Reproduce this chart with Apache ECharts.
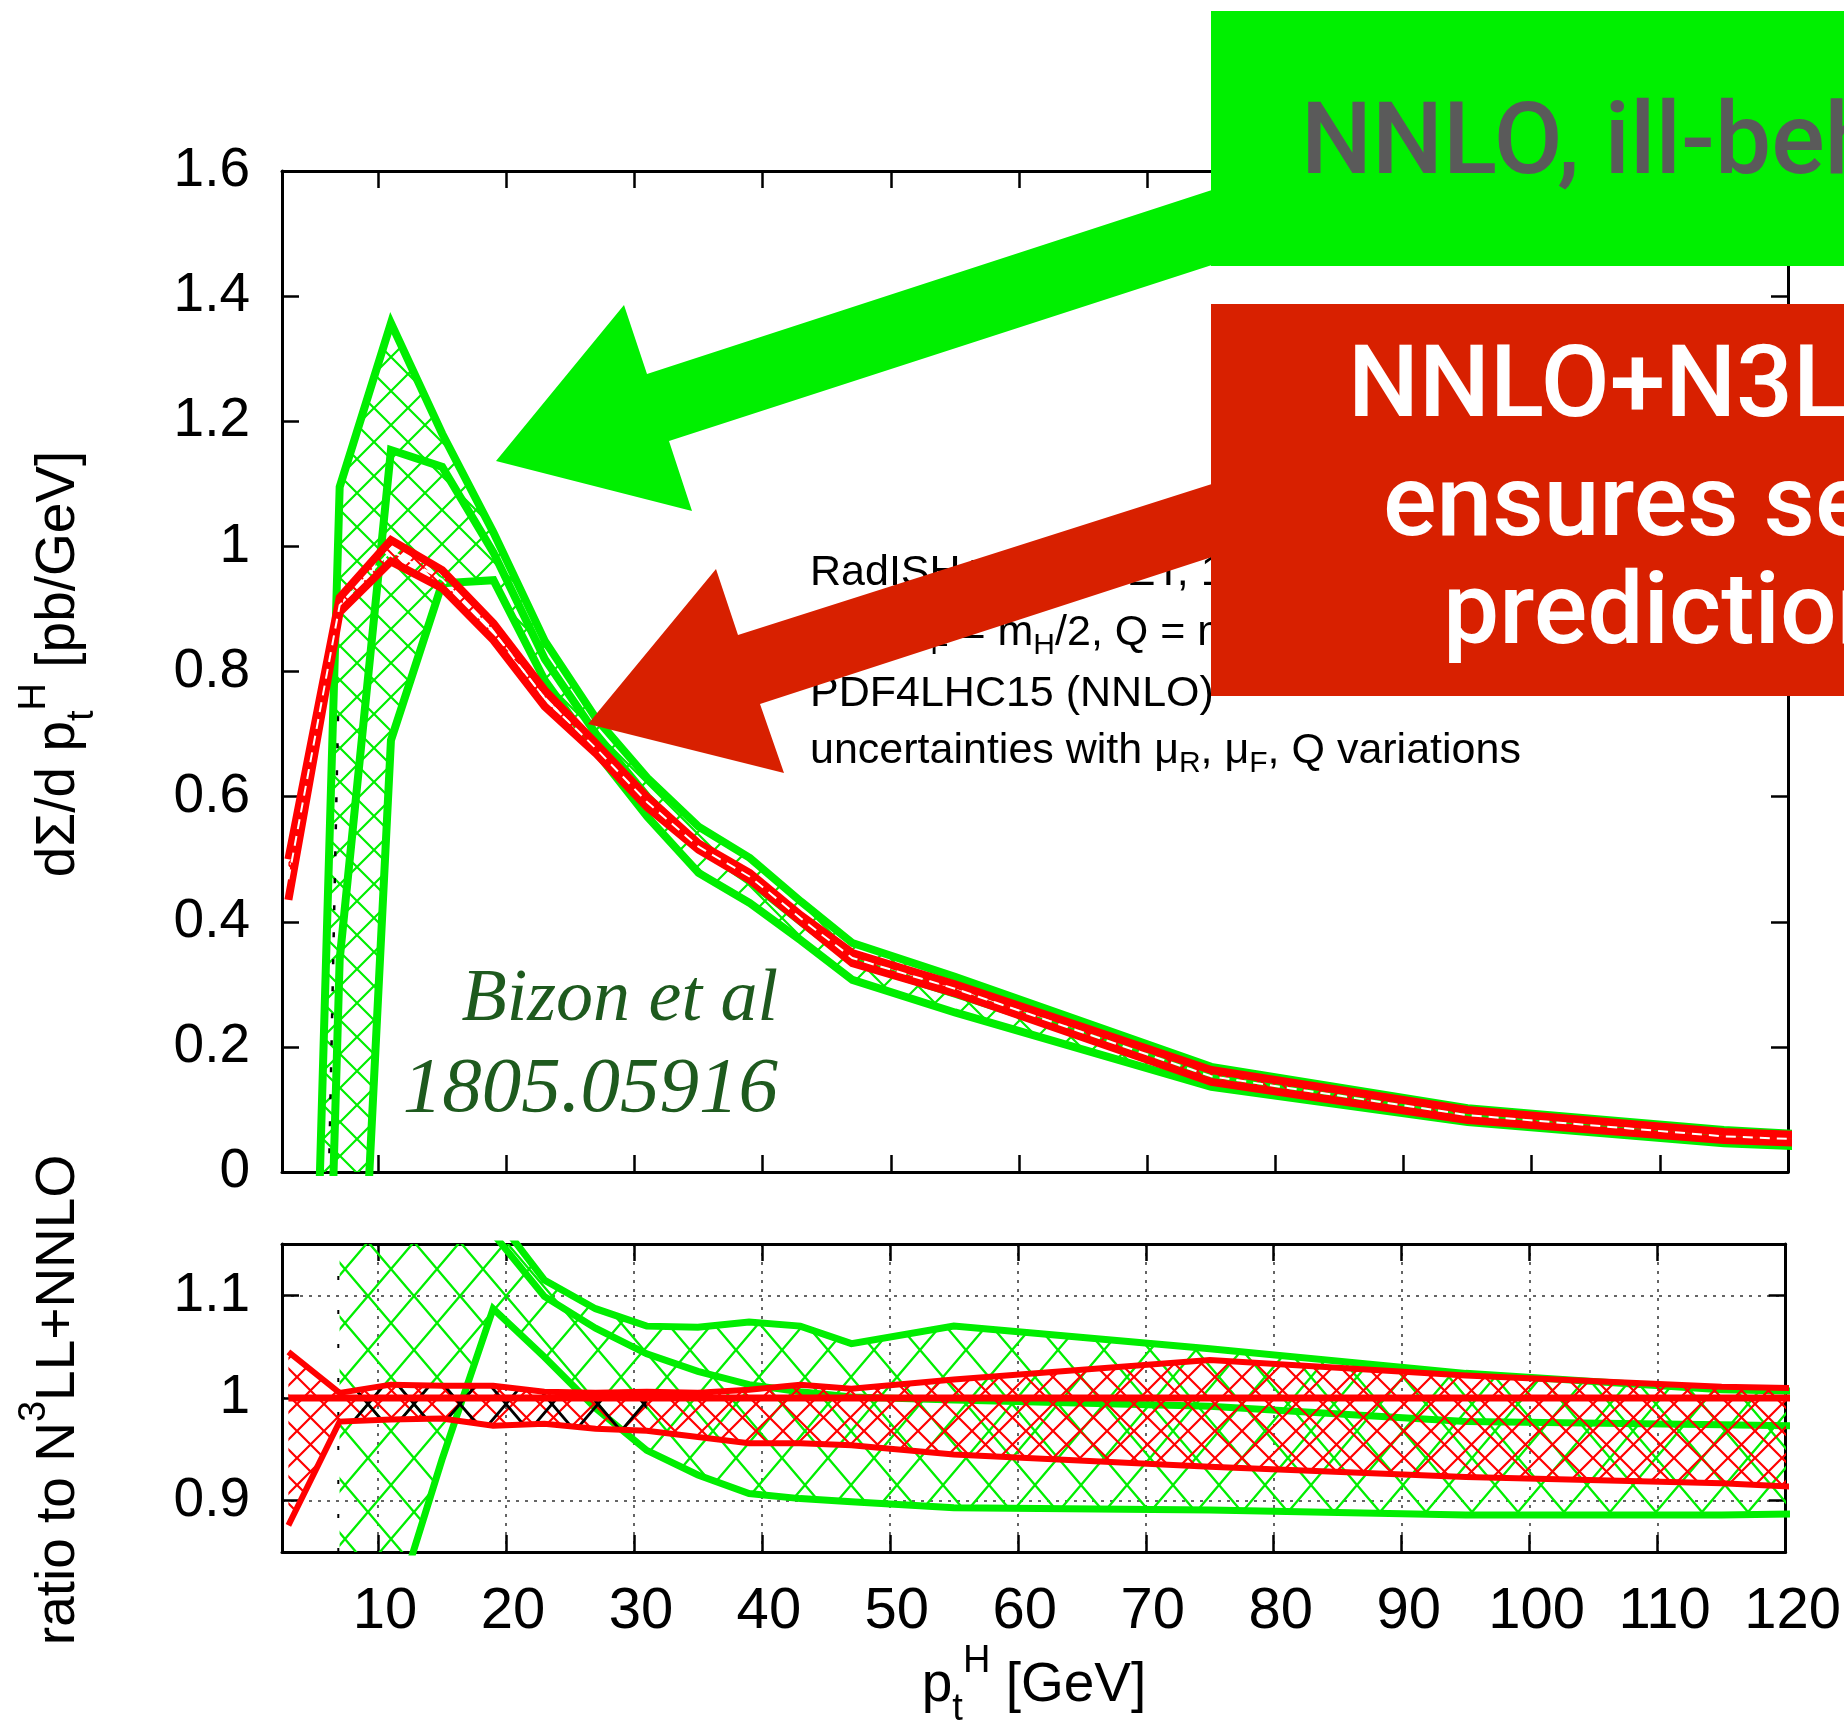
<!DOCTYPE html>
<html lang="en">
<head>
    <meta charset="UTF-8">
    <script src="https://cdn.jsdelivr.net/npm/echarts@6/dist/echarts.min.js"></script>
    <title>Higgs pt spectrum</title>
    <style type="text/css">
    body { margin: 0; }
    .chart {
        width: 1844px;
        height: 1723px;
        background-color: #fff;
    }
    </style>
</head>
<body>
    <div id="chart" class="chart"></div>
<script type="text/javascript">
// bin centres [GeV]
var ptX = [3, 7, 11, 15, 19, 23, 27, 31, 35, 39, 43, 47, 55, 75, 95, 115, 135];
var xTicks = [10, 20, 30, 40, 50, 60, 70, 80, 90, 100, 110, 120];
var ratioTicks = [0.9, 1, 1.1];

// upper panel: d sigma / d pt [pb/GeV]
var nnloHi = [-1.75, 1.095, 1.357, 1.180, 1.022, 0.849, 0.725, 0.630, 0.552, 0.502, 0.432, 0.366, 0.312, 0.168, 0.102, 0.067, 0.045];
var nnloMid = [-2.5, 0.34, 1.154, 1.127, 0.990, 0.820, 0.700, 0.600, 0.520, 0.465, 0.400, 0.337, 0.285, 0.152, 0.091, 0.058, 0.040];
var nnloLo = [-6.0, -0.95, 0.690, 0.941, 0.946, 0.786, 0.672, 0.568, 0.478, 0.430, 0.370, 0.307, 0.255, 0.136, 0.080, 0.046, 0.030];
var n3llHi = [0.500, 0.918, 1.010, 0.962, 0.877, 0.770, 0.685, 0.599, 0.525, 0.478, 0.410, 0.350, 0.300, 0.163, 0.099, 0.064, 0.047];
var n3llMid = [0.468, 0.906, 0.993, 0.947, 0.863, 0.757, 0.677, 0.591, 0.520, 0.472, 0.405, 0.342, 0.293, 0.153, 0.091, 0.057, 0.041];
var n3llLo = [0.435, 0.895, 0.976, 0.933, 0.850, 0.744, 0.669, 0.583, 0.515, 0.467, 0.400, 0.334, 0.286, 0.144, 0.083, 0.051, 0.036];
// thin black hatch edge near the lowest bins
var edgeTopX = [6.2, 6.9];
var edgeTopY = [0.03, 0.76];

// lower panel: ratio to N3LL+NNLO
var ratioN3llHi = [1.045, 1.005, 1.013, 1.012, 1.012, 1.006, 1.005, 1.006, 1.005, 1.008, 1.013, 1.009, 1.018, 1.037, 1.022, 1.011, 1.006];
var ratioN3llMid = [1, 1, 1, 1, 1, 1, 1, 1, 1, 1, 1, 1, 1, 1, 1, 1, 1];
var ratioN3llLo = [0.876, 0.977, 0.979, 0.980, 0.973, 0.975, 0.970, 0.968, 0.962, 0.956, 0.956, 0.954, 0.945, 0.933, 0.923, 0.917, 0.905];
// NNLO ratio starts at the second bin
var ratioNnloHi = [1.22, 1.37, 1.25, 1.18, 1.115, 1.087, 1.070, 1.069, 1.074, 1.070, 1.053, 1.070, 1.048, 1.024, 1.008, 1.004];
var ratioNnloMid = [1.50, 1.35, 1.22, 1.16, 1.099, 1.068, 1.043, 1.026, 1.013, 1.006, 1.001, 0.998, 0.992, 0.977, 0.974, 0.970];
var ratioNnloLo = [0.50, 0.78, 0.94, 1.087, 1.040, 0.990, 0.949, 0.925, 0.907, 0.902, 0.899, 0.893, 0.891, 0.886, 0.886, 0.890];
var edgeRatioX = [6.9, 6.9];
var edgeRatioY = [0.85, 1.15];

var F = 'Liberation Sans, Arial, sans-serif';
var GREEN = '#00ee00';
var RED = '#ff0000';

function hatch(color, w, h, lw) {
    var c = document.createElement('canvas');
    c.width = w; c.height = h;
    var g = c.getContext('2d');
    g.strokeStyle = color;
    g.lineWidth = lw;
    g.beginPath();
    for (var k = -1; k <= 1; k++) {
        g.moveTo(k * w, 0); g.lineTo(k * w + w, h);
        g.moveTo(k * w + w, 0); g.lineTo(k * w, h);
    }
    g.stroke();
    return { image: c, repeat: 'repeat' };
}

function pairs(xs, ys) {
    return xs.map(function (x, i) { return [x, ys[i]]; });
}

function band(ax, xs, lo, hi, fill, z) {
    return {
        type: 'custom', xAxisIndex: ax, yAxisIndex: ax, z: z, clip: true, silent: true,
        data: [[60, 1]],
        renderItem: function (params, api) {
            var pts = [];
            for (var i = 0; i < xs.length; i++) pts.push(api.coord([xs[i], hi[i]]));
            for (var j = xs.length - 1; j >= 0; j--) pts.push(api.coord([xs[j], lo[j]]));
            return { type: 'polygon', shape: { points: pts }, style: { fill: fill, stroke: null } };
        }
    };
}

function line(ax, xs, ys, color, width, z, type) {
    return {
        type: 'line', xAxisIndex: ax, yAxisIndex: ax, data: pairs(xs, ys), symbol: 'none',
        clip: true, silent: true, z: z,
        lineStyle: { color: color, width: width, type: type || 'solid', join: 'miter', miterLimit: 4 }
    };
}

var tickStyle = { color: '#000', width: 2.5 };
var lineAx = { onZero: false, lineStyle: { color: '#000', width: 3 } };
var labelStyle = { fontSize: 55, fontFamily: F, color: '#000' };

function xAx(grid, pos, labels) {
    return {
        type: 'value', gridIndex: grid, position: pos, min: 2.5, max: 120,
        axisLine: lineAx,
        axisTick: { inside: true, length: 17, customValues: xTicks, lineStyle: tickStyle },
        axisLabel: labels ? { customValues: xTicks, margin: 31, fontSize: 58, fontFamily: F, color: '#000', padding: [0, 0, 0, 14] } : { show: false },
        splitLine: grid === 1 && pos === 'bottom'
            ? { show: true, lineStyle: { color: '#333', width: 1.5, type: [3, 6] } } : { show: false }
    };
}

var gGreen = hatch(GREEN, 34, 34, 2.2);
var gRed = hatch(RED, 18, 18, 2);
var bGreen = hatch(GREEN, 46, 54, 2.4);
var bRed = hatch(RED, 27, 27, 2.2);
var bBlack = hatch('#000', 46, 54, 2.8);

var myChart = echarts.init(document.getElementById('chart'), null, { width: 1844, height: 1723 });

var option = {
    backgroundColor: '#fff',
    animation: false,
    grid: [
        { left: 282, top: 171, width: 1506, height: 1001 },
        { left: 282, top: 1244, width: 1506, height: 308 }
    ],
    xAxis: [xAx(0, 'bottom', false), xAx(1, 'bottom', true), xAx(0, 'top', false), xAx(1, 'top', false)],
    yAxis: [
        {
            type: 'value', gridIndex: 0, min: 0, max: 1.6, interval: 0.2, position: 'left',
            axisLine: lineAx, axisTick: { inside: true, length: 17, lineStyle: tickStyle },
            axisLabel: Object.assign({ margin: 32, padding: [4, 0, 0, 0] }, labelStyle), splitLine: { show: false }
        },
        {
            type: 'value', gridIndex: 1, min: 0.85, max: 1.15, position: 'left',
            axisLine: lineAx,
            axisTick: { inside: true, length: 17, customValues: ratioTicks, lineStyle: tickStyle },
            axisLabel: Object.assign({ customValues: ratioTicks, margin: 32, padding: [4, 0, 0, 0] }, labelStyle),
            splitLine: { show: true, lineStyle: { color: '#333', width: 1.5, type: [3, 6] } }
        },
        {
            type: 'value', gridIndex: 0, min: 0, max: 1.6, interval: 0.2, position: 'right',
            axisLine: lineAx, axisTick: { inside: true, length: 17, lineStyle: tickStyle },
            axisLabel: { show: false }, splitLine: { show: false }
        },
        {
            type: 'value', gridIndex: 1, min: 0.85, max: 1.15, position: 'right',
            axisLine: lineAx, axisTick: { inside: true, length: 17, customValues: ratioTicks, lineStyle: tickStyle },
            axisLabel: { show: false }, splitLine: { show: false }
        }
    ],
    series: [
        // upper panel
        band(0, ptX, nnloLo, nnloHi, gGreen, 2),
        line(0, edgeTopX, edgeTopY, '#000', 2.5, 2, [5, 22]),
        line(0, ptX, nnloHi, GREEN, 8, 3),
        line(0, ptX, nnloMid, GREEN, 8, 3),
        line(0, ptX, nnloLo, GREEN, 8, 3),
        band(0, ptX, n3llLo, n3llHi, gRed, 4),
        line(0, ptX, n3llHi, RED, 8, 5),
        line(0, ptX, n3llLo, RED, 8, 5),
        line(0, ptX, n3llMid, '#fff', 2, 6, [10, 7]),
        // ratio panel
        band(1, ptX.slice(1), ratioNnloLo, ratioNnloHi, bGreen, 2),
        line(1, edgeRatioX, edgeRatioY, '#000', 2, 2, [4, 30]),
        line(1, ptX.slice(1), ratioNnloHi, GREEN, 7, 3),
        line(1, ptX.slice(1), ratioNnloMid, GREEN, 7, 3),
        line(1, ptX.slice(1), ratioNnloLo, GREEN, 7, 3),
        band(1, ptX, ratioN3llLo, ratioN3llHi, bRed, 4),
        band(1, ptX.slice(1, 8), ratioN3llLo.slice(1, 8), ratioN3llHi.slice(1, 8), bBlack, 4),
        line(1, ptX, ratioN3llHi, RED, 6, 5),
        line(1, ptX, ratioN3llMid, RED, 7, 5),
        line(1, ptX, ratioN3llLo, RED, 6, 5)
    ],
    graphic: []
};

var subRich = {
    s: { fontSize: 38, fontFamily: F, verticalAlign: 'bottom', lineHeight: 55 },
    h: { fontSize: 38, fontFamily: F, verticalAlign: 'top', lineHeight: 38 }
};
var smallRich = {
    s: { fontSize: 30, fontFamily: F, verticalAlign: 'bottom', lineHeight: 38 }
};

function txt(x, y, text, o) {
    o = o || {};
    var st = {
        text: text, fill: o.color || '#000', fontSize: o.size || 55, fontFamily: o.family || F,
        fontStyle: o.style || 'normal', fontWeight: o.weight || 'normal',
        align: o.align || 'left', verticalAlign: 'middle'
    };
    if (o.lh) st.lineHeight = o.lh;
    if (o.rich) st.rich = o.rich;
    return { type: 'text', x: x, y: y, z: o.z || 50, rotation: o.rot || 0, silent: true, style: st };
}

var g = option.graphic;
// axis titles
g.push(txt(59, 664, 'dΣ/d p{s|t}{h|H} [pb/GeV]', { align: 'center', rot: Math.PI / 2, lh: 86, rich: subRich }));
g.push(txt(59, 1400, 'ratio to N{h|3}LL+NNLO', { align: 'center', rot: Math.PI / 2, lh: 86, rich: subRich }));
g.push(txt(1034, 1686, 'p{s|t}{h|H} [GeV]', { align: 'center', lh: 86, rich: subRich }));

// in-plot labels
g.push(txt(810, 573, 'RadISH+NNLOJET, 13 TeV', { size: 43, lh: 56, rich: smallRich }));
g.push(txt(810, 633, 'μ{s|R} = μ{s|F} = m{s|H}/2, Q = m{s|H}/4', { size: 43, lh: 56, rich: smallRich }));
g.push(txt(810, 694, 'PDF4LHC15 (NNLO)', { size: 43, lh: 56, rich: smallRich }));
g.push(txt(810, 751, 'uncertainties with μ{s|R}, μ{s|F}, Q variations', { size: 43, lh: 56, rich: smallRich }));
g.push(txt(778, 1001, 'Bizon et al', { size: 74, family: 'Liberation Serif, serif', style: 'italic', color: '#1e5a1e', align: 'right' }));
g.push(txt(778, 1090, '1805.05916', { size: 79, family: 'Liberation Serif, serif', style: 'italic', color: '#1e5a1e', align: 'right' }));

// arrows and boxes
g.push({
    type: 'polygon', z: 200, silent: true,
    shape: { points: [[496, 461], [624, 305], [647, 374], [1215, 189], [1215, 264], [669, 441], [692, 511]] },
    style: { fill: '#00f000' }
});
g.push({
    type: 'polygon', z: 200, silent: true,
    shape: { points: [[588, 724], [716, 569], [738, 635], [1215, 483], [1215, 556], [760, 704], [784, 773]] },
    style: { fill: '#d82000' }
});
g.push({ type: 'rect', z: 210, silent: true, shape: { x: 1211, y: 11, width: 700, height: 255 }, style: { fill: '#00f000' } });
g.push({ type: 'rect', z: 210, silent: true, shape: { x: 1211, y: 304, width: 700, height: 392 }, style: { fill: '#d82000' } });
var boxFont = 'Roboto, sans-serif';
g.push(txt(1301, 148, 'NNLO, ill-behaved', { size: 100, family: boxFont, weight: 500, color: '#5a5a5a', z: 220 }));
g.push(txt(1348, 391, 'NNLO+N3LL', { size: 100, family: boxFont, weight: 500, color: '#fff', z: 220 }));
g.push(txt(1383, 510, 'ensures sensible', { size: 100, family: boxFont, weight: 500, color: '#fff', z: 220 }));
g.push(txt(1443, 618, 'predictions', { size: 100, family: boxFont, weight: 500, color: '#fff', z: 220 }));

myChart.setOption(option);
</script>
</body>
</html>
